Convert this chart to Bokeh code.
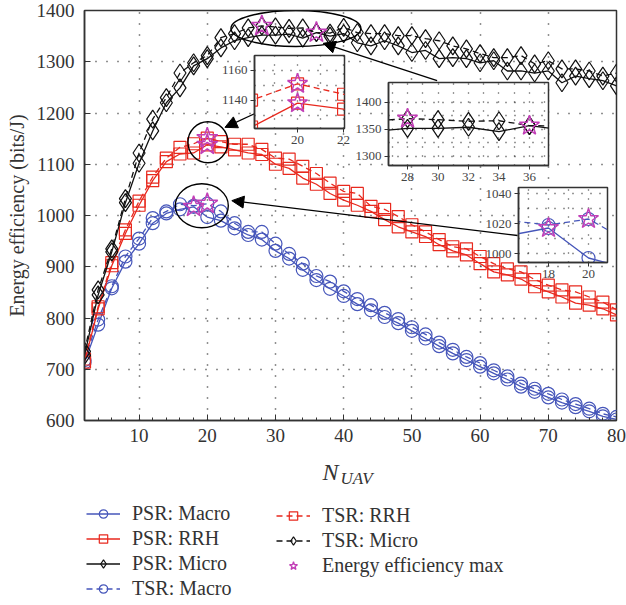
import numpy as np
from bokeh.plotting import figure
from bokeh.models import (Range1d, SingleIntervalTicker, FixedTicker, Legend, LegendItem,
                          Label, Arrow, NormalHead)
from bokeh.embed import file_html
from bokeh.resources import INLINE

# ---------------- data ----------------
n_uav = list(range(2, 82, 2))

psr_macro = [713, 787, 858, 910, 945, 985, 1004, 1012, 1017, 997,
             990, 975, 962, 953, 931, 916, 894, 874, 857, 843,
             827, 815, 802, 790, 775, 760, 745, 731, 718, 705,
             692, 680, 666, 656, 645, 635, 626, 618, 608, 602]
tsr_macro = [718, 797, 862, 920, 955, 995, 1008, 1022, 1019, 1023,
             1008, 985, 968, 968, 945, 925, 906, 882, 871, 852,
             837, 825, 810, 798, 782, 768, 752, 738, 724, 712,
             698, 686, 672, 662, 652, 641, 632, 623, 613, 607]
psr_rrh = [714, 818, 902, 965, 1020, 1068, 1105, 1120, 1122, 1138,
           1134, 1128, 1122, 1119, 1100, 1092, 1073, 1061, 1043, 1030,
           1020, 1008, 992, 978, 968, 959, 943, 931, 923, 906,
           890, 884, 876, 861, 851, 841, 829, 825, 818, 806]
tsr_rrh = [720, 822, 908, 972, 1028, 1075, 1112, 1133, 1140, 1151,
           1144, 1139, 1139, 1129, 1112, 1110, 1096, 1082, 1063, 1047,
           1043, 1018, 1012, 998, 982, 968, 953, 939, 935, 920,
           906, 896, 890, 875, 864, 855, 851, 841, 831, 816]
psr_micro = [727, 845, 929, 1025, 1102, 1165, 1220, 1249, 1292, 1306,
             1327, 1341, 1347, 1352, 1352, 1354, 1346, 1357, 1350, 1355,
             1337, 1331, 1341, 1331, 1318, 1322, 1306, 1308, 1306, 1298,
             1302, 1282, 1282, 1278, 1282, 1259, 1272, 1267, 1263, 1253]
tsr_micro = [735, 855, 935, 1033, 1122, 1188, 1230, 1278, 1298, 1312,
             1347, 1355, 1366, 1370, 1368, 1365, 1366, 1357, 1356, 1367,
             1357, 1355, 1355, 1351, 1351, 1345, 1341, 1331, 1325, 1316,
             1308, 1308, 1312, 1296, 1302, 1286, 1286, 1282, 1272, 1278]

BLUE = "#4656ba"
RED = "#e8291e"
BLACK = "#111111"
STAR = "#c23fb7"
AX = "#333333"
FONT = "Liberation Serif"

series = {
    "PSR: Macro": (psr_macro, BLUE, "solid", "circle", 13),
    "TSR: Macro": (tsr_macro, BLUE, "6 4", "circle", 13),
    "PSR: RRH": (psr_rrh, RED, "solid", "square", 12),
    "TSR: RRH": (tsr_rrh, RED, "6 4", "square", 12),
    "PSR: Micro": (psr_micro, BLACK, "solid", "diamond", 18),
    "TSR: Micro": (tsr_micro, BLACK, "6 4", "diamond", 18),
}
ALL = list(series.keys())

# maxima (stars)
star_x, star_y = [], []
for name, (vals, *_rest) in series.items():
    i = int(np.argmax(vals))
    star_x.append(n_uav[i])
    star_y.append(vals[i])


def draw_series(fig, names, lw=1.3, msize_scale=1.0):
    rends = {}
    for name in names:
        vals, col, dash, mk, sz = series[name]
        l = fig.line(n_uav, vals, line_color=col, line_width=lw, line_dash=dash)
        s = fig.scatter(n_uav, vals, marker=mk, size=sz * msize_scale, line_color=col,
                        fill_color=None, line_width=1.2)
        rends[name] = [l, s]
    return rends


# ---------------- main figure ----------------
p = figure(width=626, height=605, x_range=Range1d(2, 80), y_range=Range1d(600, 1400),
           output_backend="svg", toolbar_location=None,
           min_border_left=84, min_border_right=10, min_border_top=10, min_border_bottom=185,
           styles={"position": "absolute", "left": "0px", "top": "0px"})
p.background_fill_color = "white"
p.border_fill_color = "white"
p.outline_line_color = AX
p.outline_line_width = 1.5

p.xaxis.ticker = SingleIntervalTicker(interval=10, num_minor_ticks=5)
p.yaxis.ticker = SingleIntervalTicker(interval=100, num_minor_ticks=0)
for ax in (p.xaxis[0], p.yaxis[0]):
    ax.axis_line_color = AX
    ax.axis_line_width = 1.5
    ax.major_tick_in = 6
    ax.major_tick_out = 0
    ax.minor_tick_in = 3
    ax.minor_tick_out = 0
    ax.major_tick_line_color = AX
    ax.minor_tick_line_color = AX
    ax.major_label_text_font = FONT
    ax.major_label_text_font_size = "19px"
    ax.major_label_text_color = AX
p.xaxis.major_label_standoff = 8
p.yaxis.major_label_standoff = 10
p.yaxis.axis_label = "Energy efficiency (bits/J)"
p.yaxis.axis_label_text_font = FONT
p.yaxis.axis_label_text_font_size = "20px"
p.yaxis.axis_label_text_font_style = "normal"
p.yaxis.axis_label_text_color = AX
p.yaxis.axis_label_standoff = 6

for g in (p.xgrid[0], p.ygrid[0]):
    g.grid_line_color = "#222222"
    g.grid_line_dash = "1 10"
    g.grid_line_width = 1.5

draw_series(p, ALL)
p.scatter(star_x, star_y, marker="star", size=22, line_color=STAR,
          fill_color=None, line_width=1.5)

# annotation ellipses (centre in data units, size in px)
ell_x = [33.0, 20.1, 19.2]
ell_y = [1365, 1143, 1019]
ell_w = [130, 40, 53]
ell_h = [36, 41, 44]
p.ellipse(x=ell_x, y=ell_y, width=ell_w, height=ell_h, width_units="screen",
          height_units="screen", fill_color=None, line_color="black", line_width=1.4)

arrows = [((53.7, 1263), (37.0, 1336)),
          ((27.0, 1199), (22.6, 1172)),
          ((65.5, 961), (23.6, 1029))]
for (xs, ys), (xe, ye) in arrows:
    p.add_layout(Arrow(end=NormalHead(size=12, fill_color="black", line_color="black"),
                       x_start=xs, y_start=ys, x_end=xe, y_end=ye,
                       line_color="black", line_width=1.3))

# ---------------- bottom strip: x-axis title + legend ----------------
# pixel-like ranges: x = px from left, y = px from top of the strip
lg = figure(width=626, height=185, x_range=Range1d(0, 626), y_range=Range1d(185, 0),
            output_backend="svg", toolbar_location=None,
            x_axis_location=None, y_axis_location=None,
            min_border_left=0, min_border_right=0, min_border_top=0, min_border_bottom=0,
            styles={"position": "absolute", "left": "0px", "top": "420px"})
lg.grid.visible = False
lg.outline_line_color = None
lg.background_fill_color = None
lg.border_fill_color = None

lg.add_layout(Label(x=338, y=51, text="N", text_align="right", text_baseline="alphabetic",
                    text_font=FONT, text_font_style="italic", text_font_size="24px",
                    text_color=AX))
lg.add_layout(Label(x=340, y=58, text="UAV", text_align="left", text_baseline="alphabetic",
                    text_font=FONT, text_font_style="italic", text_font_size="17px",
                    text_color=AX))

# legend proxies (same series; they fall outside this strip's ranges, so only the legend shows them)
lrends = draw_series(lg, ALL, msize_scale=0.6)
lstar = lg.scatter(star_x, star_y, marker="star", size=12, line_color=STAR,
                   fill_color=None, line_width=1.3)

col1 = ["PSR: Macro", "PSR: RRH", "PSR: Micro", "TSR: Macro"]
col2 = ["TSR: RRH", "TSR: Micro"]
items1 = [LegendItem(label=n, renderers=lrends[n]) for n in col1]
items2 = [LegendItem(label=n, renderers=lrends[n]) for n in col2]
items2.append(LegendItem(label="Energy efficiency max", renderers=[lstar]))
# location = bottom-left corner of each legend, in px from the strip's bottom-left
for items, lx, ly in ((items1, 86, 5), (items2, 276, 28)):
    leg = Legend(items=items, location=(lx, ly), padding=0, margin=0, spacing=2,
                 glyph_width=34, glyph_height=21, label_height=21, label_standoff=12,
                 label_text_font=FONT, label_text_font_size="20px", label_text_color=AX,
                 background_fill_alpha=0, border_line_color=None)
    lg.add_layout(leg)


# ---------------- insets ----------------
def make_inset(left, top, fw, fh, xr, yr, xt, xmt, yt, ymt, names):
    f = figure(width=40 + fw + 8, height=6 + fh + 24, x_range=Range1d(*xr),
               y_range=Range1d(*yr), output_backend="svg", toolbar_location=None,
               min_border_left=40, min_border_right=8, min_border_top=6, min_border_bottom=24,
               styles={"position": "absolute", "left": f"{left - 40}px", "top": f"{top - 6}px"})
    f.border_fill_color = None
    f.background_fill_color = "white"
    f.outline_line_color = AX
    f.outline_line_width = 1.5
    f.xaxis.ticker = FixedTicker(ticks=xt, minor_ticks=xmt)
    f.yaxis.ticker = FixedTicker(ticks=yt, minor_ticks=ymt)
    for ax in (f.xaxis[0], f.yaxis[0]):
        ax.axis_line_color = AX
        ax.axis_line_width = 1.5
        ax.major_tick_in = 0
        ax.major_tick_out = 4
        ax.minor_tick_in = 0
        ax.minor_tick_out = 0
        ax.major_tick_line_color = AX
        ax.major_label_text_font = FONT
        ax.major_label_text_font_size = "13px"
        ax.major_label_text_color = "#444444"
        ax.major_label_standoff = 3
    for g in (f.xgrid[0], f.ygrid[0]):
        g.grid_line_color = "#333333"
        g.grid_line_dash = "1 8"
        g.grid_line_width = 1.3
        g.minor_grid_line_color = "#333333"
        g.minor_grid_line_dash = "1 8"
        g.minor_grid_line_width = 1.3
    draw_series(f, names)
    f.scatter(star_x, star_y, marker="star", size=21, line_color=STAR,
              fill_color=None, line_width=1.5)
    return f


ins_rrh = make_inset(254, 55, 90, 73, (18.13, 22.04), (1121, 1170),
                     [20, 22], [19, 21], [1140, 1160], [1130, 1150],
                     ["PSR: RRH", "TSR: RRH"])
ins_micro = make_inset(388, 82, 160, 83, (26.75, 37.25), (1283, 1437),
                       [28, 30, 32, 34, 36], [27, 29, 31, 33, 35, 37],
                       [1300, 1350, 1400], [1325, 1375],
                       ["PSR: Micro", "TSR: Micro"])
ins_macro = make_inset(518, 187, 89, 75, (16.5, 20.95), (994, 1044),
                       [18, 20], [17, 19], [1000, 1020, 1040], [1010, 1030],
                       ["PSR: Macro", "TSR: Macro"])

roots = [p, lg, ins_rrh, ins_micro, ins_macro]
open("out.html", "w").write(file_html(roots, INLINE))
